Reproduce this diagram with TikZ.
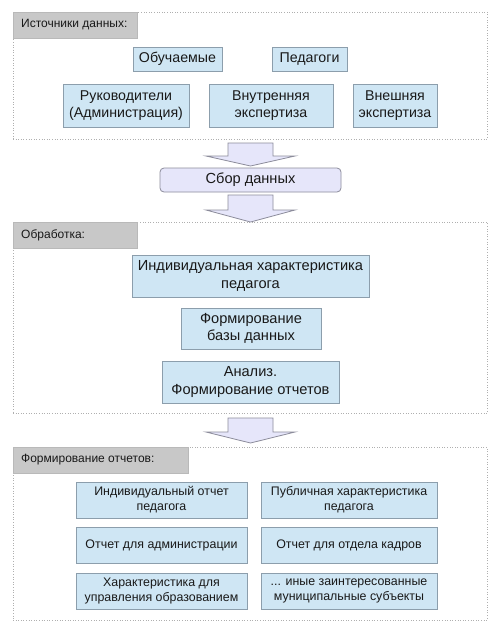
\documentclass[tikz,border=0pt]{standalone}
\usepackage{fontspec}
\setmainfont{Liberation Sans}
\definecolor{boxfill}{RGB}{207,230,244}
\definecolor{boxline}{RGB}{140,158,172}
\definecolor{hdrfill}{RGB}{200,200,200}
\definecolor{hdrline}{RGB}{185,185,185}
\definecolor{arrfill}{RGB}{230,230,250}
\definecolor{arrline}{RGB}{140,140,155}
\definecolor{secline}{RGB}{175,175,175}
\definecolor{txt}{RGB}{25,25,25}
\begin{document}
\begin{tikzpicture}[x=1pt,y=-1pt,
  text=txt,
  bx/.style={draw=boxline,fill=boxfill,line width=0.8pt,align=center,inner sep=0pt,outer sep=0pt},
  srcfont/.style={font=\fontsize{14.2}{16.8}\selectfont},
  procfont/.style={font=\fontsize{14.6}{17.5}\selectfont},
  repfont/.style={font=\fontsize{12.4}{15}\selectfont},
  sec/.style={draw=secline,dotted,line width=0.6pt,inner sep=0pt,outer sep=0pt},
  hdr/.style={fill=hdrfill,draw=hdrline,line width=0.5pt,inner sep=0pt,outer sep=0pt,minimum height=26pt},
  hdrtext/.style={font=\fontsize{12}{14}\selectfont,anchor=west,inner sep=0pt},
  collect/.style={draw=arrline,fill=arrfill,rounded corners=4pt,line width=0.8pt,inner sep=0pt,outer sep=0pt,align=center},
  barrow/.style={draw=arrline,fill=arrfill,line width=0.8pt,line join=miter}]
\useasboundingbox (0,0) rectangle (495,630);
\fill[white] (0,0) rectangle (495,630);
% sections
\node[sec,minimum width=474pt,minimum height=127pt] (s1) at (250,75.5) {};
\node[sec,minimum width=474pt,minimum height=191pt] (s2) at (250,317.5) {};
\node[sec,minimum width=474pt,minimum height=173pt] (s3) at (250,533.5) {};
\node[hdr,minimum width=124pt] (h1) at (75,25) {};
\node[hdr,minimum width=124pt] (h2) at (75,235) {};
\node[hdr,minimum width=175pt] (h3) at (100.5,460) {};
\node[hdrtext] (t1) at (21,25) {Источники данных:};
\node[hdrtext] (t2) at (21,235) {Обработка:};
\node[hdrtext] (t3) at (21,460) {Формирование отчетов:};
% sources
\node[bx,srcfont,minimum width=89pt,minimum height=24pt] (learners) at (177.5,59) {Обучаемые};
\node[bx,srcfont,minimum width=75pt,minimum height=24pt] (teachers) at (309.5,59) {Педагоги};
\node[bx,srcfont,minimum width=126pt,minimum height=43pt] (heads) at (126,105.5) {Руководители\\(Администрация)};
\node[bx,srcfont,minimum width=124pt,minimum height=43pt] (intexp) at (271,105.5) {Внутренняя\\экспертиза};
\node[bx,srcfont,minimum width=84pt,minimum height=43pt] (extexp) at (395,105.5) {Внешняя\\экспертиза};
% collection
\node[collect,procfont,minimum width=181pt,minimum height=24pt] (gather) at (250.5,180) {Сбор данных};
% processing
\node[bx,procfont,minimum width=237pt,minimum height=42pt] (indiv) at (250.5,276) {Индивидуальная характеристика\\педагога};
\node[bx,procfont,minimum width=140pt,minimum height=41pt] (db) at (251,328.5) {Формирование\\базы данных};
\node[bx,procfont,minimum width=177pt,minimum height=42pt] (anal) at (250.5,382) {Анализ.\\Формирование отчетов};
% reports
\node[bx,repfont,minimum width=171pt,minimum height=36pt] (r1) at (161.5,500) {Индивидуальный отчет\\педагога};
\node[bx,repfont,minimum width=176pt,minimum height=36pt] (r2) at (349,500) {Публичная характеристика\\педагога};
\node[bx,repfont,minimum width=171pt,minimum height=36pt] (r3) at (161.5,545) {Отчет для администрации};
\node[bx,repfont,minimum width=176pt,minimum height=36pt] (r4) at (349,545) {Отчет для отдела кадров};
\node[bx,repfont,minimum width=171pt,minimum height=36pt] (r5) at (161.5,591) {Характеристика для\\управления образованием};
\node[bx,repfont,minimum width=176pt,minimum height=36pt] (r6) at (349,591) {... иные заинтересованные\\муниципальные субъекты};
% block arrows
\draw[barrow] (228,143) -- (273,143) -- (273,156) -- (295,156) -- (250.5,166) -- (206,156) -- (228,156) -- cycle;
\draw[barrow] (228,195) -- (273,195) -- (273,210) -- (295,210) -- (250.5,222) -- (206,210) -- (228,210) -- cycle;
\draw[barrow] (228,418) -- (273,418) -- (273,432) -- (295,432) -- (250.5,443) -- (206,432) -- (228,432) -- cycle;
\end{tikzpicture}
\end{document}
